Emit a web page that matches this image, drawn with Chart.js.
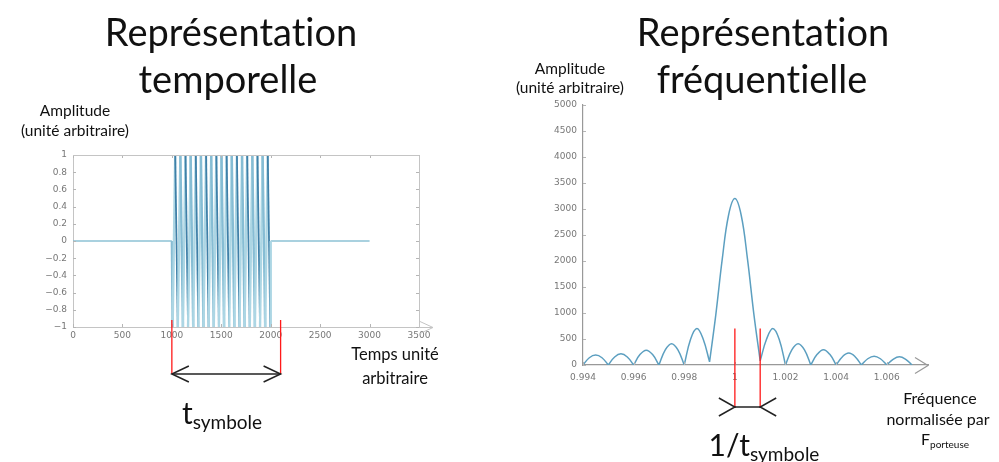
<!DOCTYPE html>
<html>
<head>
<meta charset="utf-8">
<script src="https://cdn.jsdelivr.net/npm/chart.js@4.4.0/dist/chart.umd.min.js"></script>
<style>
  html, body { margin: 0; padding: 0; background: #fff; }
  #page { position: relative; width: 999px; height: 462px; overflow: hidden; font-family: Lato, "Open Sans", sans-serif; color: #111; font-variant-ligatures: none; }
  canvas { position: absolute; top: 0; }
  .lbl { position: absolute; white-space: nowrap; line-height: 1; transform: translate(-50%, -50%); }
  .title { font-size: 38px; }
  .small { font-size: 15.5px; }
  .sym { font-size: 30px; }
  .sym sub { font-size: 19px; vertical-align: -5px; }
  .fp sub { font-size: 10px; vertical-align: -3px; }
</style>
</head>
<body>
<div id="page">
  <canvas id="timeChart" style="left:0" width="480" height="462"></canvas>
  <canvas id="freqChart" style="left:480px" width="519" height="462"></canvas>

  <div class="lbl title" style="left:231px; top:31px">Représentation</div>
  <div class="lbl title" style="left:228px; top:78px">temporelle</div>
  <div class="lbl title" style="left:763px; top:31px">Représentation</div>
  <div class="lbl title" style="left:762px; top:78px">fréquentielle</div>

  <div class="lbl small" style="left:75px; top:111px">Amplitude</div>
  <div class="lbl small" style="left:75px; top:131px">(unité arbitraire)</div>
  <div class="lbl small" style="left:570px; top:69px">Amplitude</div>
  <div class="lbl small" style="left:570px; top:88px">(unité arbitraire)</div>

  <div class="lbl small" style="left:395px; top:354px; font-size:16.5px">Temps unité</div>
  <div class="lbl small" style="left:395px; top:378px; font-size:16.5px">arbitraire</div>

  <div class="lbl small" style="left:940px; top:398px; font-size:16px">Fréquence</div>
  <div class="lbl small" style="left:938px; top:419px; font-size:16px">normalisée par</div>
  <div class="lbl small fp" style="left:945px; top:440px; font-size:16px">F<sub>porteuse</sub></div>

  <div class="lbl sym" style="left:222px; top:414px">t<sub>symbole</sub></div>
  <div class="lbl sym" style="left:764px; top:446px">1/t<sub>symbole</sub></div>
</div>

<script>
// --- temporal signal ---
const timeTicks = [0, 500, 1000, 1500, 2000, 2500, 3000, 3500];
const ampTicks = [-1, -0.8, -0.6, -0.4, -0.2, 0, 0.2, 0.4, 0.6, 0.8, 1];
const silenceBefore = [[0, 0], [1000, 0]];
const silenceAfter = [[2000, 0], [3000, 0]];
const burstT = [1000,
  1008, 1034, 1060, 1086, 1112, 1138, 1164, 1190, 1216, 1242,
  1268, 1294, 1320, 1346, 1372, 1398, 1424, 1450, 1476, 1502,
  1528, 1554, 1580, 1606, 1632, 1658, 1684, 1710, 1736, 1762,
  1788, 1814, 1840, 1866, 1892, 1918, 1944, 1970, 1996,
  2000];
const burstA = [0,
  -1, 1, -1, 1, -1, 1, -1, 1, -1, 1,
  -1, 1, -1, 1, -1, 1, -1, 1, -1, 1,
  -1, 1, -1, 1, -1, 1, -1, 1, -1, 1,
  -1, 1, -1, 1, -1, 1, -1, 1, -1,
  0];
const symbolSpan = [1000, 2100];

// --- spectrum ---
const freqTicks = [0.994, 0.996, 0.998, 1, 1.002, 1.004, 1.006];
const spectrumTicks = [0, 500, 1000, 1500, 2000, 2500, 3000, 3500, 4000, 4500, 5000];
// null = cusp between two lobes
const freqX = [
  0.994, 0.99425, 0.9945, 0.99475, 0.995, 0.995,
  0.995, 0.99525, 0.9955, 0.99575, 0.996, 0.996,
  0.996, 0.99625, 0.9965, 0.99675, 0.997, 0.997,
  0.997, 0.99725, 0.9975, 0.99775, 0.998, 0.998,
  0.998, 0.99825, 0.9985, 0.99875, 0.999, 0.999,
  0.999, 0.99925, 0.9995, 0.99975, 1, 1.00025, 1.0005, 1.00075, 1.001, 1.001,
  1.001, 1.00125, 1.0015, 1.00175, 1.002, 1.002,
  1.002, 1.00225, 1.0025, 1.00275, 1.003, 1.003,
  1.003, 1.00325, 1.0035, 1.00375, 1.004, 1.004,
  1.004, 1.00425, 1.0045, 1.00475, 1.005, 1.005,
  1.005, 1.00525, 1.0055, 1.00575, 1.006, 1.006,
  1.006, 1.00625, 1.0065, 1.00675, 1.007
];
const spectrumY = [
  0, 140, 190, 140, 0, null,
  0, 155, 215, 155, 0, null,
  0, 200, 285, 200, 0, null,
  0, 290, 410, 290, 0, null,
  0, 495, 700, 495, 60, null,
  60, 980, 2030, 2880, 3200, 2880, 2030, 980, 80, null,
  80, 495, 700, 495, 0, null,
  0, 290, 410, 290, 0, null,
  0, 205, 295, 205, 0, null,
  0, 160, 230, 160, 0, null,
  0, 120, 170, 120, 0, null,
  0, 110, 160, 110, 0
];
const freqSpan = [1, 1.001];

const tickFont = { family: 'DejaVu Sans', size: 9 };
const tickColor = '#777';
const axisGray = '#b5b5b5';

function toPoints(xs, ys) {
  return xs.map((x, i) => ({ x: x, y: ys[i] }));
}

function fixTicks(values) {
  return function (scale) {
    scale.ticks = values.map(v => ({ value: v }));
  };
}

function fmt(v) {
  const s = String(parseFloat(Number(v).toFixed(3)));
  return s.replace('-', '\u2212');
}

function drawArrowHead(ctx, tipX, tipY, dx, half) {
  ctx.beginPath();
  ctx.moveTo(tipX - dx, tipY - half);
  ctx.lineTo(tipX, tipY);
  ctx.lineTo(tipX - dx, tipY + half);
  ctx.stroke();
}

function innerTicks(ctx, chart, withBox) {
  const a = chart.chartArea;
  const xs = chart.scales.x, ys = chart.scales.y;
  ctx.strokeStyle = axisGray;
  ctx.lineWidth = 1;
  ctx.beginPath();
  xs.ticks.forEach(t => {
    const px = Math.round(xs.getPixelForValue(t.value)) + 0.5;
    ctx.moveTo(px, a.bottom); ctx.lineTo(px, a.bottom - 3);
    if (withBox) { ctx.moveTo(px, a.top); ctx.lineTo(px, a.top + 3); }
  });
  ys.ticks.forEach(t => {
    const py = Math.round(ys.getPixelForValue(t.value)) + 0.5;
    ctx.moveTo(a.left, py); ctx.lineTo(a.left + 3, py);
    if (withBox) { ctx.moveTo(a.right, py); ctx.lineTo(a.right - 3, py); }
  });
  ctx.stroke();
}

// box, axis arrow and the t_symbole marker
const timeDecor = {
  id: 'timeDecor',
  afterDraw(chart) {
    const ctx = chart.ctx, a = chart.chartArea, xs = chart.scales.x;
    ctx.save();
    innerTicks(ctx, chart, true);
    ctx.strokeStyle = '#c4c4c4';
    ctx.beginPath();
    ctx.moveTo(a.left, a.top + 0.5); ctx.lineTo(a.right + 0.5, a.top + 0.5);
    ctx.lineTo(a.right + 0.5, a.bottom);
    ctx.moveTo(a.right, a.bottom + 0.5); ctx.lineTo(a.right + 14, a.bottom + 0.5);
    ctx.stroke();
    drawArrowHead(ctx, a.right + 14, a.bottom + 0.5, 13, 6);

    const x1 = xs.getPixelForValue(symbolSpan[0]);
    const x2 = xs.getPixelForValue(symbolSpan[1]);
    const yArrow = a.bottom + 47;
    ctx.strokeStyle = '#ff1a1a';
    ctx.lineWidth = 1.3;
    ctx.beginPath();
    ctx.moveTo(x1, a.bottom - 7); ctx.lineTo(x1, yArrow);
    ctx.moveTo(x2, a.bottom - 7); ctx.lineTo(x2, yArrow);
    ctx.stroke();
    ctx.strokeStyle = '#222';
    ctx.lineWidth = 1.5;
    ctx.beginPath();
    ctx.moveTo(x1, yArrow); ctx.lineTo(x2, yArrow);
    ctx.stroke();
    drawArrowHead(ctx, x1, yArrow, -17, 8);
    drawArrowHead(ctx, x2, yArrow, 17, 8);
    ctx.restore();
  }
};

const freqDecor = {
  id: 'freqDecor',
  afterDraw(chart) {
    const ctx = chart.ctx, a = chart.chartArea, xs = chart.scales.x, ys = chart.scales.y;
    ctx.save();
    innerTicks(ctx, chart, false);
    ctx.strokeStyle = '#999';
    ctx.lineWidth = 1.2;
    drawArrowHead(ctx, a.right, a.bottom + 0.5, 13, 8);

    const x1 = xs.getPixelForValue(freqSpan[0]);
    const x2 = xs.getPixelForValue(freqSpan[1]);
    const yTop = ys.getPixelForValue(700);
    const yArrow = a.bottom + 42;
    ctx.strokeStyle = '#ff1a1a';
    ctx.lineWidth = 1.3;
    ctx.beginPath();
    ctx.moveTo(x1, yTop); ctx.lineTo(x1, yArrow + 1);
    ctx.moveTo(x2, yTop); ctx.lineTo(x2, yArrow + 1);
    ctx.stroke();
    ctx.strokeStyle = '#222';
    ctx.lineWidth = 1.5;
    ctx.beginPath();
    ctx.moveTo(x1, yArrow); ctx.lineTo(x2, yArrow);
    ctx.stroke();
    drawArrowHead(ctx, x1, yArrow, 16, 9);
    drawArrowHead(ctx, x2, yArrow, -16, 9);
    ctx.restore();
  }
};

// every other falling stroke is drawn dark, the rest light
function strokeColor(c) {
  if (c.p1.parsed.y < c.p0.parsed.y) {
    return c.p0DataIndex % 4 === 2 ? '#3f80a8' : '#86bdd4';
  }
  return '#acd6e4';
}

new Chart(document.getElementById('timeChart'), {
  type: 'line',
  data: {
    datasets: [
      {
        data: silenceBefore.map(p => ({ x: p[0], y: p[1] })),
        borderColor: '#8cc2d5', borderWidth: 1.5, pointRadius: 0
      },
      {
        data: toPoints(burstT, burstA),
        borderWidth: 2.4, pointRadius: 0, tension: 0,
        borderColor: '#acd6e4',
        segment: {
          borderColor: strokeColor,
          borderWidth: c => (c.p1.parsed.y < c.p0.parsed.y && c.p0DataIndex % 4 === 2) ? 1.8 : 2.4
        }
      },
      {
        data: silenceAfter.map(p => ({ x: p[0], y: p[1] })),
        borderColor: '#8cc2d5', borderWidth: 1.5, pointRadius: 0
      }
    ]
  },
  options: {
    responsive: false,
    animation: false,
    events: [],
    layout: { padding: { left: 33, right: 61, top: 155, bottom: 115 } },
    plugins: { legend: { display: false }, tooltip: { enabled: false } },
    scales: {
      x: {
        type: 'linear', min: 0, max: 3500,
        afterBuildTicks: fixTicks(timeTicks),
        afterFit: s => { s.height = 20; },
        grid: { display: false, drawTicks: false },
        border: { color: '#c4c4c4' },
        ticks: { font: tickFont, color: tickColor, padding: 3, maxRotation: 0, autoSkip: false, callback: fmt }
      },
      y: {
        min: -1, max: 1,
        afterBuildTicks: fixTicks(ampTicks),
        afterFit: s => { s.width = 40; },
        grid: { display: false, drawTicks: false },
        border: { color: '#c4c4c4' },
        ticks: { font: tickFont, color: tickColor, padding: 6, autoSkip: false, callback: fmt }
      }
    }
  },
  plugins: [timeDecor]
});

new Chart(document.getElementById('freqChart'), {
  type: 'line',
  data: {
    datasets: [{
      data: toPoints(freqX, spectrumY),
      borderColor: '#5c9fc0', borderWidth: 1.5, pointRadius: 0,
      tension: 0.4, spanGaps: false
    }]
  },
  options: {
    responsive: false,
    animation: false,
    events: [],
    layout: { padding: { left: 63, right: 71, top: 105, bottom: 77 } },
    plugins: { legend: { display: false }, tooltip: { enabled: false } },
    scales: {
      x: {
        type: 'linear', min: 0.994, max: 1.00763,
        afterBuildTicks: fixTicks(freqTicks),
        afterFit: s => { s.height = 20; },
        grid: { display: false, drawTicks: false },
        border: { color: '#999', width: 1.2 },
        ticks: { font: tickFont, color: tickColor, padding: 7, maxRotation: 0, autoSkip: false, callback: fmt }
      },
      y: {
        min: 0, max: 5000,
        afterBuildTicks: fixTicks(spectrumTicks),
        afterFit: s => { s.width = 40; },
        grid: { display: false, drawTicks: false },
        border: { color: '#999', width: 1.2 },
        ticks: { font: tickFont, color: tickColor, padding: 6, autoSkip: false, callback: fmt }
      }
    }
  },
  plugins: [freqDecor]
});
</script>
</body>
</html>
